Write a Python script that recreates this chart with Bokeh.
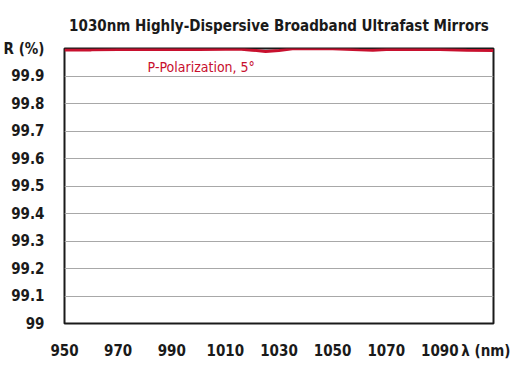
from bokeh.plotting import figure
from bokeh.models import Label, FixedTicker
from bokeh.embed import file_html
from bokeh.resources import INLINE

title_text = "1030nm Highly-Dispersive Broadband Ultrafast Mirrors"
wavelength = [950, 960, 970, 980, 990, 1000, 1010, 1015, 1020, 1025, 1030, 1035, 1040,
              1050, 1055, 1060, 1065, 1070, 1080, 1090, 1100, 1110]
reflectance = [99.995, 99.995, 99.996, 99.996, 99.996, 99.996, 99.997, 99.998, 99.994,
               99.989, 99.993, 99.999, 99.999, 99.999, 99.997, 99.995, 99.994, 99.996,
               99.997, 99.996, 99.994, 99.993]
x_ticks = [950, 970, 990, 1010, 1030, 1050, 1070, 1090, 1109]
x_labels = ["950", "970", "990", "1010", "1030", "1050", "1070", "1090", "λ (nm)"]
y_ticks = [99.0, 99.1, 99.2, 99.3, 99.4, 99.5, 99.6, 99.7, 99.8, 99.9, 100.0]
y_labels = ["99", "99.1", "99.2", "99.3", "99.4", "99.5", "99.6", "99.7", "99.8", "99.9", "R (%)"]
series_label = "P-Polarization, 5°"

FONT = "DejaVu Sans Condensed"
RED = "#c8102e"

p = figure(width=510, height=376, output_backend="svg", toolbar_location=None,
           x_range=(950, 1110), y_range=(99, 100),
           min_border_left=63, min_border_right=17, min_border_top=48, min_border_bottom=53)

p.title.text = title_text
p.title.align = "center"
p.title.text_font = FONT
p.title.text_font_size = "15px"
p.title.text_font_style = "bold"
p.title.text_color = "#1a1a1a"
p.title.standoff = 28

p.outline_line_color = "#1a1a1a"
p.outline_line_width = 2
p.xgrid.grid_line_color = None
p.ygrid.grid_line_color = "#a8a8a8"
p.ygrid.grid_line_width = 1

for ax in (p.xaxis[0], p.yaxis[0]):
    ax.axis_line_color = None
    ax.major_tick_line_color = None
    ax.minor_tick_line_color = None
    ax.major_label_text_font = FONT
    ax.major_label_text_font_size = "15px"
    ax.major_label_text_font_style = "bold"
    ax.major_label_text_color = "#1a1a1a"

p.xaxis[0].ticker = FixedTicker(ticks=x_ticks)
p.xaxis[0].major_label_overrides = {t: l for t, l in zip(x_ticks, x_labels)}
p.xaxis[0].major_label_standoff = 12
p.yaxis[0].ticker = FixedTicker(ticks=y_ticks)
p.yaxis[0].major_label_overrides = {t: l for t, l in zip(y_ticks, y_labels)}
p.yaxis[0].major_label_standoff = 14
p.ygrid.ticker = FixedTicker(ticks=y_ticks[1:-1])

p.line(wavelength, reflectance, line_color=RED, line_width=3)

p.add_layout(Label(x=981, y=99.932, text=series_label, text_font=FONT,
                   text_font_size="14px", text_color=RED, text_baseline="middle"))

open("out.html", "w").write(file_html(p, INLINE))
